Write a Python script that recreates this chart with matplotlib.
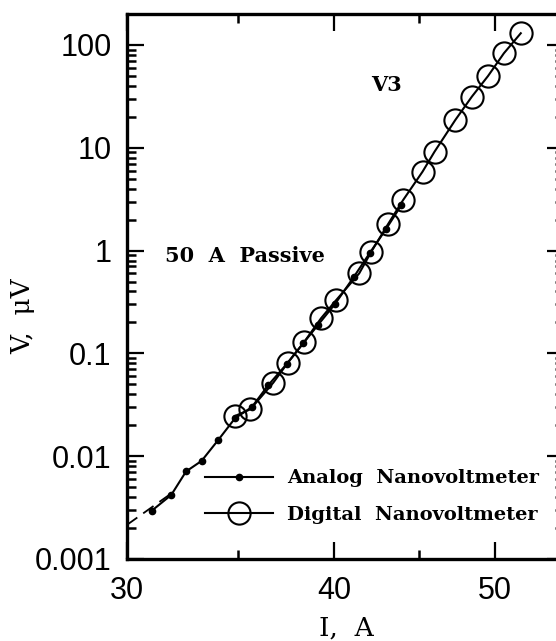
import matplotlib
matplotlib.use("Agg")
import matplotlib.pyplot as plt
from matplotlib.ticker import FixedLocator, FixedFormatter, NullFormatter

# ─── data ─────────────────────────────────────────────────────────────────────

analog_i = [31.05, 31.9, 32.56, 33.27, 34.05, 34.85, 35.67, 36.5, 37.44,
            38.3, 39.1, 40.05, 41.1, 42.0, 42.96, 43.9]
analog_v = [0.00295, 0.0042, 0.0071, 0.0090, 0.0144, 0.0234, 0.030, 0.0493,
            0.0788, 0.125, 0.189, 0.305, 0.557, 0.942, 1.61, 2.78]

digital_i = [34.85, 35.6, 36.75, 37.5, 38.37, 39.27, 40.1, 41.4, 42.1, 43.1,
             44.0, 45.2, 45.96, 47.3, 48.4, 49.5, 50.6, 51.8]
digital_v = [0.0246, 0.0286, 0.0519, 0.0813, 0.130, 0.22, 0.33, 0.60, 0.975,
             1.82, 3.1, 5.85, 9.16, 18.6, 31.4, 49.9, 83.0, 130.0]

fit_i = [30.0, 32.0]
fit_v = [0.00215, 0.0045]

x_major = [30, 40, 50]
x_labels = ["30", "40", "50"]
x_minor = [35, 45, 55]
y_major = [0.001, 0.01, 0.1, 1, 10, 100]
y_labels = ["0.001", "0.01", "0.1", "1", "10", "100"]
y_minor = [m * d for d in y_major for m in range(2, 10)]

SERIF_BOLD = {"family": "DejaVu Serif", "weight": "bold", "size": 15}

fig = plt.figure(figsize=(5.56, 6.41), dpi=100)
ax = fig.add_axes([127 / 556, 82 / 641, 437 / 556, 545 / 641])

ax.set_xscale("log")
ax.set_yscale("log")

ax.plot(fit_i, fit_v, color="black", lw=1.3, dashes=[7, 4])
ax.plot(analog_i, analog_v, color="black", lw=1.5, marker="o", ms=4.5,
        mfc="black", mec="black", label="Analog  Nanovoltmeter")
ax.plot(digital_i, digital_v, color="black", lw=1.5, marker="o", ms=16,
        mfc="none", mec="black", mew=1.5, label="Digital  Nanovoltmeter")

ax.set_xlim(30, 55)
ax.set_ylim(0.001, 200)

# ticks
ax.xaxis.set_major_locator(FixedLocator(x_major))
ax.xaxis.set_major_formatter(FixedFormatter(x_labels))
ax.xaxis.set_minor_locator(FixedLocator(x_minor))
ax.xaxis.set_minor_formatter(NullFormatter())
ax.yaxis.set_major_locator(FixedLocator(y_major))
ax.yaxis.set_major_formatter(FixedFormatter(y_labels))
ax.yaxis.set_minor_locator(FixedLocator(y_minor))
ax.yaxis.set_minor_formatter(NullFormatter())

ax.tick_params(which="both", direction="in", top=True, right=True,
               color="black", labelsize=22, labelfontfamily="Liberation Sans")
ax.tick_params(which="major", length=12, width=1.6)
ax.tick_params(which="minor", length=6.5, width=1.8)
ax.tick_params(axis="x", which="major", pad=12)
ax.tick_params(axis="y", which="major", pad=11)

for sp in ax.spines.values():
    sp.set_linewidth(2.4)

# axis labels
ax.set_xlabel("I,  A", family="DejaVu Serif", size=19, va="center")
ax.xaxis.set_label_coords(0.503, -0.127)
ax.set_ylabel("V,  \u03bcV", family="DejaVu Serif", size=19, va="center")
ax.yaxis.set_label_coords(-0.238, 0.446)

# annotations
ax.text(0.594, 0.870, "V3", transform=ax.transAxes, ha="center", va="center",
        **SERIF_BOLD)
ax.text(0.27, 0.556, "50  A  Passive", transform=ax.transAxes, ha="center",
        va="center", **SERIF_BOLD)

leg = ax.legend(loc="center left", bbox_to_anchor=(0.1785, 0.1147),
                frameon=False, borderpad=0, borderaxespad=0, numpoints=1,
                handlelength=3.5, handletextpad=0.72, labelspacing=0.94,
                prop={"family": "DejaVu Serif", "weight": "bold", "size": 14})

fig.savefig("out.png", dpi=100)
